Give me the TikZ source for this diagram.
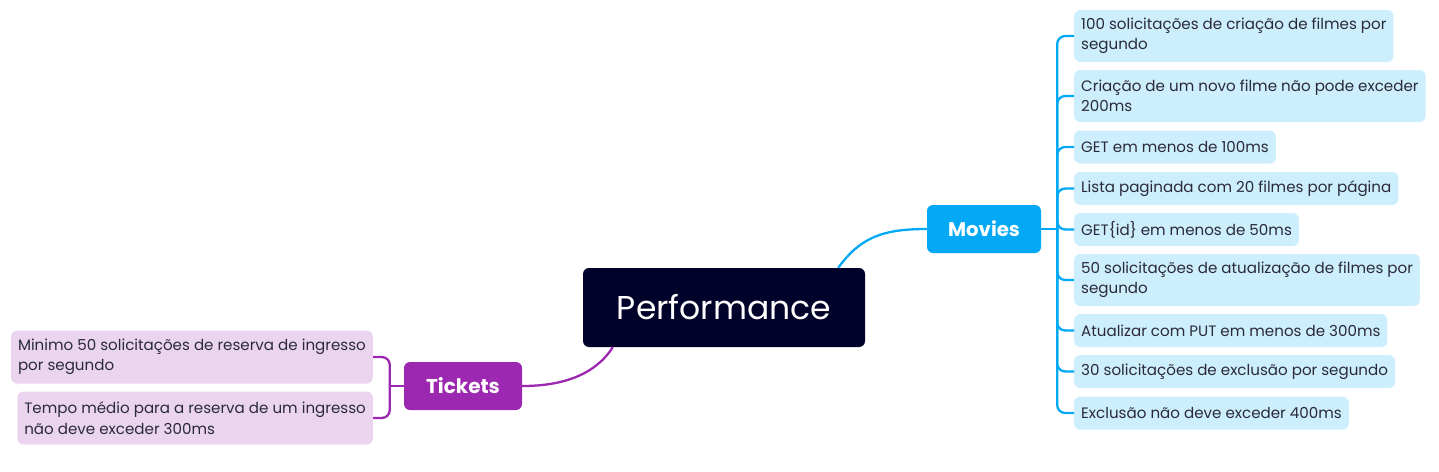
\documentclass[tikz,border=0pt]{standalone}
\usepackage{fontspec}
\setmainfont{Poppins}
\usetikzlibrary{calc}
\definecolor{perfbg}{HTML}{000229}
\definecolor{mvblue}{HTML}{03A9F4}
\definecolor{mvlight}{HTML}{CDEEFC}
\definecolor{tkpurple}{HTML}{9C27B0}
\definecolor{tklight}{HTML}{EBD4F0}
\definecolor{leaftext}{HTML}{2A2A3A}
\begin{document}
\begin{tikzpicture}[x=1pt,y=-1pt,
  leafbox/.style={anchor=west,rounded corners=6pt,inner xsep=7pt,inner ysep=0pt,
    align=left,text=leaftext,font=\fontsize{15.1}{20.5}\selectfont,minimum height=33pt},
  mvleaf/.style={leafbox,fill=mvlight},
  tkleaf/.style={leafbox,fill=tklight},
  mvline/.style={draw=mvblue,line width=2.3pt},
  tkline/.style={draw=tkpurple,line width=2.3pt}]
\useasboundingbox (0,0) rectangle (1439,471);
% central
\node[fill=perfbg,rounded corners=6pt,minimum width=282pt,minimum height=79pt,
  text=white,font=\fontsize{33}{36}\selectfont] (perf) at (724,307.5) {Performance};
% main branches
\node[fill=mvblue,rounded corners=6pt,minimum width=114pt,minimum height=48pt,
  text=white,font=\fontsize{19.7}{22}\selectfont\bfseries] (mv) at (984,229) {Movies};
\node[fill=tkpurple,rounded corners=6pt,minimum width=118pt,minimum height=48pt,
  text=white,font=\fontsize{20}{22}\selectfont\bfseries] (tk) at (463,386) {Tickets};
% movies leaves
\node[mvleaf,minimum height=52pt] (m1) at (1074,36) {100 solicitações de criação de filmes por\\segundo};
\node[mvleaf,minimum height=52pt] (m2) at (1074,96) {Criação de um novo filme não pode exceder\\200ms};
\node[mvleaf] (m3) at (1074,147) {GET em menos de 100ms};
\node[mvleaf] (m4) at (1074,188.5) {Lista paginada com 20 filmes por página};
\node[mvleaf] (m5) at (1074,229.5) {GET\{id\} em menos de 50ms};
\node[mvleaf,minimum height=52pt] (m6) at (1074,280) {50 solicitações de atualização de filmes por\\segundo};
\node[mvleaf] (m7) at (1074,330.5) {Atualizar com PUT em menos de 300ms};
\node[mvleaf] (m8) at (1074,371.5) {30 solicitações de exclusão por segundo};
\node[mvleaf] (m9) at (1074,413) {Exclusão não deve exceder 400ms};
% tickets leaves
\node[tkleaf,anchor=east,minimum height=53pt] (t1) at (373,357) {Minimo 50 solicitações de reserva de ingresso\\por segundo};
\node[tkleaf,anchor=east,minimum height=53pt] (t2) at (373,418) {Tempo médio para a reserva de um ingresso\\não deve exceder 300ms};
% connectors center
\coordinate (p1) at ([xshift=-27pt]perf.north east);
\coordinate (p2) at ([xshift=30pt]perf.south west);
\draw[mvline] (p1) .. controls ($(p1)+(22,-30)$) and ($(mv.west)+(-45,0)$) .. (mv.west);
\draw[tkline] (p2) .. controls ($(p2)+(-18,28)$) and ($(tk.east)+(40,0)$) .. (tk.east);
% movies bracket
\coordinate (mb) at ([xshift=16pt]mv.east);
\draw[mvline] (mv.east) -- (mb);
\foreach \n in {m1,m2,m3,m4,m5,m6,m7,m8,m9}
  \draw[mvline,rounded corners=8pt] (mb) |- (\n.west);
% tickets bracket
\coordinate (tb) at ([xshift=-14pt]tk.west);
\draw[tkline] (tk.west) -- (tb);
\foreach \n in {t1,t2}
  \draw[tkline,rounded corners=8pt] (tb) |- (\n.east);
\end{tikzpicture}
\end{document}
